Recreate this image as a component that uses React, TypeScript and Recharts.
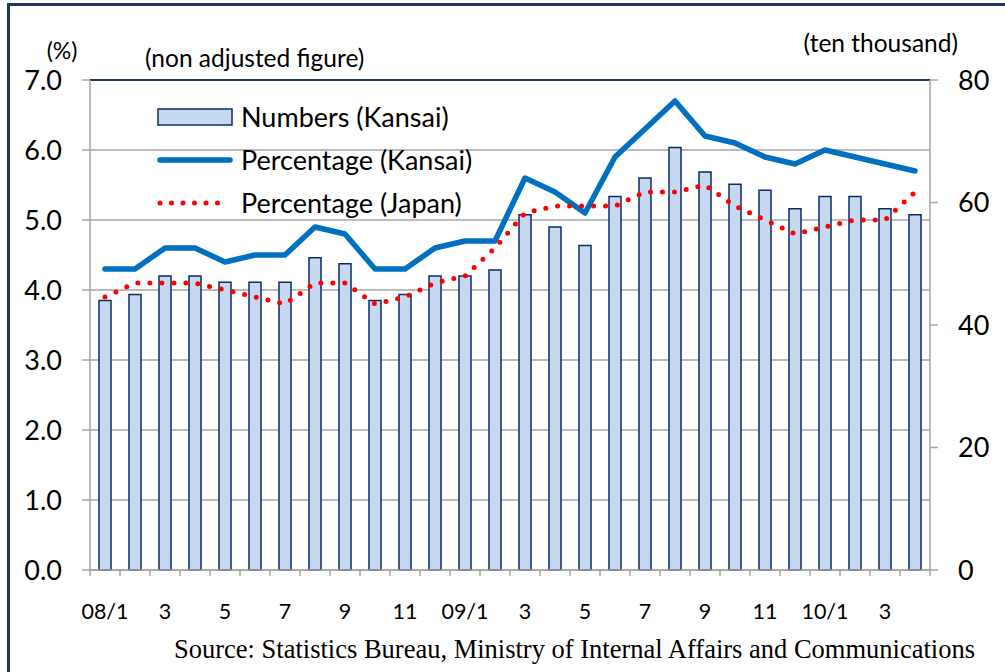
import React from "react";
import {
  ComposedChart,
  Bar,
  Line,
  XAxis,
  YAxis,
  CartesianGrid,
  Legend,
  ReferenceLine,
} from "recharts";

const months = [
  "08/1", "2", "3", "4", "5", "6", "7", "8", "9", "10", "11", "12",
  "09/1", "2", "3", "4", "5", "6", "7", "8", "9", "10", "11", "12",
  "10/1", "2", "3", "4",
];
const numbersKansai = [
  44, 45, 48, 48, 47, 47, 47, 51, 50, 44, 45, 48,
  48, 49, 58, 56, 53, 61, 64, 69, 65, 63, 62, 59,
  61, 61, 59, 58,
];
const percentKansai = [
  4.3, 4.3, 4.6, 4.6, 4.4, 4.5, 4.5, 4.9, 4.8, 4.3, 4.3, 4.6,
  4.7, 4.7, 5.6, 5.4, 5.1, 5.9, 6.3, 6.7, 6.2, 6.1, 5.9, 5.8,
  6.0, 5.9, 5.8, 5.7,
];
const percentJapan = [
  3.9, 4.1, 4.1, 4.1, 4.0, 3.9, 3.8, 4.1, 4.1, 3.8, 3.9, 4.1,
  4.2, 4.6, 5.1, 5.2, 5.2, 5.2, 5.4, 5.4, 5.5, 5.2, 5.0, 4.8,
  4.9, 5.0, 5.0, 5.4,
];
const leftTicks = [0, 1, 2, 3, 4, 5, 6, 7];
const rightTicks = [0, 20, 40, 60, 80];

const data = months.map((m, i) => ({
  month: m,
  numbers: numbersKansai[i],
  kansai: percentKansai[i],
  japan: percentJapan[i],
}));

const NAVY = "#1F3864";
const BAR_FILL = "#C6D9F0";
const BAR_STROKE = "#0F2A66";
const BLUE = "#0070C0";
const RED = "#FF0000";
const GRID = "#A6A6A6";
const FONT = "Lato, 'Open Sans', sans-serif";

const XTick = (props: any) => {
  const { x, y, payload, index, width, visibleTicksCount } = props;
  const n = visibleTicksCount || months.length;
  const half = width ? width / n / 2 : 15;
  return (
    <g>
      <line x1={x - half} x2={x - half} y1={y} y2={y + 6} stroke={GRID} strokeWidth={1.5} />
      {index === n - 1 && (
        <line x1={x + half} x2={x + half} y1={y} y2={y + 6} stroke={GRID} strokeWidth={1.5} />
      )}
      {index % 2 === 0 && (
        <text
          x={x}
          y={y + 41}
          textAnchor="middle"
          dominantBaseline="central"
          fontFamily={FONT}
          fontSize={21.5}
          fill="#000"
        >
          {payload.value}
        </text>
      )}
    </g>
  );
};

const LegendContent = () => {
  const row = (icon: React.ReactNode, label: string) => (
    <div style={{ display: "flex", alignItems: "center", height: 43 }}>
      <svg width={76} height={20} style={{ display: "block", flex: "none" }}>
        {icon}
      </svg>
      <span
        style={{
          marginLeft: 8,
          fontFamily: FONT,
          fontSize: 27,
          lineHeight: "30px",
          color: "#000",
          whiteSpace: "nowrap",
        }}
      >
        {label}
      </span>
    </div>
  );
  return (
    <div style={{ width: 318, paddingRight: 4 }}>
      {row(
        <rect x={1} y={2} width={74} height={16} fill={BAR_FILL} stroke={BAR_STROKE} strokeWidth={1.5} />,
        "Numbers (Kansai)"
      )}
      {row(
        <line x1={3} x2={73} y1={10} y2={10} stroke={BLUE} strokeWidth={5.5} strokeLinecap="round" />,
        "Percentage (Kansai)"
      )}
      {row(
        <line
          x1={3}
          x2={72}
          y1={10}
          y2={10}
          stroke={RED}
          strokeWidth={5}
          strokeLinecap="round"
          strokeDasharray="0 11.5"
        />,
        "Percentage (Japan)"
      )}
    </div>
  );
};

export default function App() {
  return (
    <div
      style={{
        position: "absolute",
        left: 0,
        top: 0,
        width: 1005,
        height: 672,
        background: "#fff",
        overflow: "hidden",
      }}
    >
      <div
        style={{
          position: "absolute",
          left: 7,
          top: 3,
          width: 1010,
          height: 700,
          borderTop: `3px solid ${NAVY}`,
          borderLeft: `3px solid ${NAVY}`,
          boxSizing: "border-box",
        }}
      />
      <ComposedChart
        width={1005}
        height={672}
        data={data}
        margin={{ top: 80, right: 15, bottom: 62, left: 30 }}
        barCategoryGap={0}
        style={{ position: "absolute", left: 0, top: 0 }}
      >
        <CartesianGrid yAxisId="left" vertical={false} stroke={GRID} strokeWidth={1.5} />
        <XAxis
          dataKey="month"
          interval={0}
          height={40}
          tickLine={false}
          tickSize={0}
          tickMargin={0}
          axisLine={{ stroke: GRID, strokeWidth: 1.5 }}
          tick={<XTick />}
        />
        <YAxis
          yAxisId="left"
          orientation="left"
          width={60}
          domain={[0, 7]}
          ticks={leftTicks}
          interval={0}
          tickFormatter={(v: number) => v.toFixed(1)}
          tickSize={8}
          tickMargin={20}
          axisLine={{ stroke: GRID, strokeWidth: 1.5 }}
          tickLine={{ stroke: GRID, strokeWidth: 1.5 }}
          tick={{ fontFamily: FONT, fontSize: 27, fill: "#000" }}
        />
        <YAxis
          yAxisId="right"
          orientation="right"
          width={60}
          domain={[0, 80]}
          ticks={rightTicks}
          interval={0}
          tickSize={8}
          tickMargin={20}
          axisLine={{ stroke: GRID, strokeWidth: 1.5 }}
          tickLine={{ stroke: GRID, strokeWidth: 1.5 }}
          tick={{ fontFamily: FONT, fontSize: 27, fill: "#000" }}
        />
        <ReferenceLine yAxisId="left" y={7} stroke={NAVY} strokeWidth={2} />
        <Bar
          yAxisId="right"
          dataKey="numbers"
          name="Numbers (Kansai)"
          barSize={12}
          fill={BAR_FILL}
          stroke={BAR_STROKE}
          strokeWidth={1.5}
          isAnimationActive={false}
        />
        <Line
          yAxisId="left"
          dataKey="kansai"
          name="Percentage (Kansai)"
          type="linear"
          stroke={BLUE}
          strokeWidth={5.5}
          strokeLinejoin="round"
          strokeLinecap="round"
          dot={false}
          activeDot={false}
          isAnimationActive={false}
        />
        <Line
          yAxisId="left"
          dataKey="japan"
          name="Percentage (Japan)"
          type="linear"
          stroke={RED}
          strokeWidth={5}
          strokeLinecap="round"
          strokeDasharray="0 12"
          dot={false}
          activeDot={false}
          isAnimationActive={false}
        />
        <Legend
          content={<LegendContent />}
          layout="vertical"
          verticalAlign="middle"
          align="center"
          wrapperStyle={{ left: 157, top: 95, width: 322 }}
        />
      </ComposedChart>
      <svg
        width={1005}
        height={672}
        style={{ position: "absolute", left: 0, top: 0, pointerEvents: "none" }}
      >
        <text x={62} y={50} textAnchor="middle" dominantBaseline="central" fontFamily={FONT} fontSize={23} fill="#000">
          (%)
        </text>
        <text x={145} y={57} dominantBaseline="central" fontFamily={FONT} fontSize={24.5} fill="#000">
          (non adjusted figure)
        </text>
        <text x={958} y={42} textAnchor="end" dominantBaseline="central" fontFamily={FONT} fontSize={24.5} fill="#000">
          (ten thousand)
        </text>
        <text
          x={975}
          y={649}
          textAnchor="end"
          dominantBaseline="central"
          fontFamily="'Liberation Serif', 'DejaVu Serif', serif"
          fontSize={26.5}
          fill="#000"
        >
          Source: Statistics Bureau, Ministry of Internal Affairs and Communications
        </text>
      </svg>
    </div>
  );
}
